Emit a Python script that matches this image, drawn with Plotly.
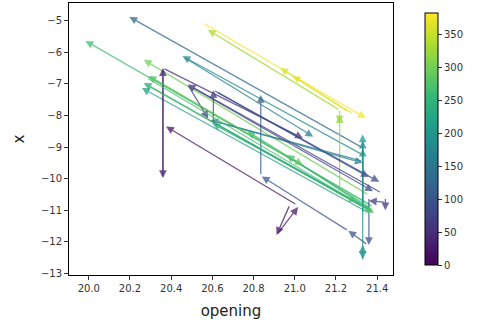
import plotly.graph_objects as go
from plotly.colors import sample_colorscale

# arrow tails (x0, y0), heads (x1, y1) and colour value c
x0 = [21.331, 21.368, 21.359, 21.331, 21.382, 21.359, 21.350,
      21.218, 20.554, 21.260, 21.284, 21.218, 21.218,
      20.360, 20.360, 20.360, 21.420, 20.480, 20.605, 20.605,
      21.010, 20.976, 20.912,
      20.835, 21.355, 21.260, 21.360,
      21.330, 21.330, 21.330, 21.330, 21.330,
      20.460, 21.330, 20.620,
      21.360, 21.370, 20.290, 20.600, 20.270,
      21.440, 21.440, 20.500, 20.620,
      21.360, 20.280]
y0 = [-9.03, -10.83, -10.52, -9.25, -10.90, -10.99, -11.05,
      -7.83, -5.07, -7.89, -7.95, -10.36, -7.80,
      -6.50, -9.98, -6.50, -10.45, -7.02, -8.30, -7.20,
      -10.83, -10.83, -11.78,
      -9.90, -12.10, -11.65, -10.60,
      -11.10, -11.00, -10.00, -8.80, -12.60,
      -6.15, -9.45, -8.20,
      -10.90, -11.00, -6.75, -8.20, -7.00,
      -10.60, -10.75, -7.10, -7.25,
      -10.95, -6.80]
x1 = [20.197, 19.984, 20.267, 20.455, 20.290, 20.267, 20.258,
      20.578, 21.345, 20.930, 20.990, 21.218, 21.218,
      20.360, 20.360, 21.040, 20.480, 20.580, 20.605, 21.410,
      20.375, 20.912, 21.016,
      20.835, 21.260, 20.840, 21.360,
      21.330, 21.330, 21.330, 21.330, 21.330,
      21.090, 20.590, 21.330,
      20.770, 20.960, 21.040, 21.380, 21.385,
      21.440, 21.360, 21.380, 21.360,
      20.600, 21.300]
y1 = [-4.88, -5.64, -6.24, -6.12, -6.75, -6.97, -7.13,
      -5.29, -8.08, -6.50, -6.75, -7.99, -8.25,
      -9.98, -6.50, -8.72, -7.02, -8.10, -7.20, -10.10,
      -8.35, -11.78, -10.90,
      -7.35, -11.65, -9.93, -12.10,
      -8.60, -8.80, -9.05, -12.55, -12.10,
      -8.67, -8.15, -9.50,
      -8.50, -9.25, -9.57, -11.05, -11.09,
      -11.00, -10.70, -10.40, -9.95,
      -8.25, -10.75]
c = [130, 265, 300, 185, 275, 230, 215,
     330, 378, 360, 368, 320, 325,
     35, 42, 50, 60, 65, 75, 80,
     20, 15, 25,
     110, 100, 105, 90,
     205, 195, 210, 190, 198,
     170, 160, 165,
     250, 260, 290, 240, 280,
     55, 70, 85, 95,
     235, 270]

CMAX = 383.0
colors = sample_colorscale("Viridis", [v / CMAX for v in c])

fig = go.Figure()

# colorbar carrier (point outside the visible range)
fig.add_trace(go.Scatter(
    x=[20.0], y=[-30], mode="markers", showlegend=False, hoverinfo="skip",
    marker=dict(color=[0], cmin=0, cmax=CMAX, colorscale="Viridis", showscale=True,
                colorbar=dict(thickness=13, len=1.0, lenmode="fraction", y=0.5,
                              yanchor="middle", x=1.068, xanchor="left",
                              outlinewidth=1, outlinecolor="black",
                              tickvals=[0, 50, 100, 150, 200, 250, 300, 350],
                              ticks="outside", ticklen=4, tickcolor="#333",
                              tickfont=dict(family="DejaVu Sans", size=10, color="#333")))))

for a, b, p, q, col in zip(x0, y0, x1, y1, colors):
    fig.add_annotation(x=p, y=q, ax=a, ay=b, xref="x", yref="y", axref="x", ayref="y",
                       text="", showarrow=True, arrowhead=2, arrowsize=1.2,
                       arrowwidth=1.3, arrowcolor=col, opacity=0.75, standoff=0)

fig.update_layout(
    width=477, height=327, margin=dict(l=69, r=74, t=3, b=52),
    paper_bgcolor="white", plot_bgcolor="white", showlegend=False,
    font=dict(family="DejaVu Sans", color="#333"),
    xaxis=dict(range=[19.904, 21.477], tick0=20.0, dtick=0.2, tickformat=".1f",
               showline=True, mirror=True, linecolor="black", linewidth=1,
               ticks="outside", ticklen=4, tickcolor="#333", showgrid=False, zeroline=False,
               tickfont=dict(size=10, color="#333"),
               title=dict(text="opening", font=dict(size=15, color="#222"), standoff=12)),
    yaxis=dict(range=[-13.05, -4.44], dtick=1,
               showline=True, mirror=True, linecolor="black", linewidth=1,
               ticks="outside", ticklen=4, tickcolor="#333", showgrid=False, zeroline=False,
               tickfont=dict(size=10, color="#333"),
               title=dict(text="x", font=dict(size=15, color="#222"), standoff=12)),
)

fig.write_html("out.html")
